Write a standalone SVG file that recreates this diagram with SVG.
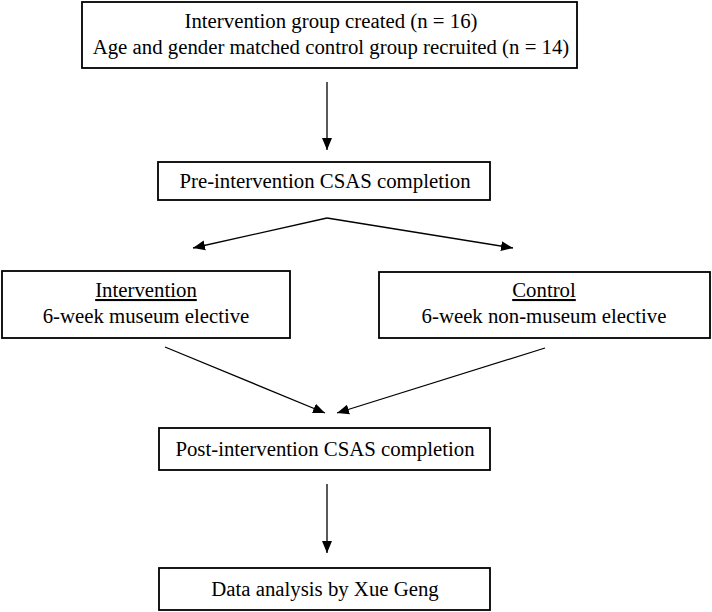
<svg xmlns="http://www.w3.org/2000/svg" width="712" height="612" viewBox="0 0 712 612">
<style>
.box{fill:#fff;stroke:#000;stroke-width:1.8}
.t{font-family:"Liberation Serif","Times New Roman",serif;font-size:20.8px;fill:#000;text-anchor:middle}
.c{stroke:#000;stroke-width:1.3;fill:none;marker-end:url(#ah)}
</style>
<defs>
<marker id="ah" markerUnits="userSpaceOnUse" markerWidth="12" markerHeight="12" viewBox="0 0 12 10" refX="12" refY="5" orient="auto">
<path d="M0,0 L12,5 L0,10 Z" fill="#000"/>
</marker>
</defs>
<rect width="712" height="612" fill="#fff"/>
<g id="connectors">
<line class="c" x1="327" y1="82" x2="327" y2="150"/>
<line class="c" x1="327" y1="218" x2="193" y2="248"/>
<line class="c" x1="327" y1="218" x2="513" y2="248"/>
<line class="c" x1="165" y1="347" x2="325" y2="413"/>
<line class="c" x1="545" y1="348" x2="337" y2="413"/>
<line class="c" x1="327" y1="484" x2="327" y2="553"/>
</g>
<g id="start">
<rect class="box" x="82" y="2" width="495" height="66"/>
<text class="t" x="331" y="28">Intervention group created (n = 16)</text>
<text class="t" x="331" y="54">Age and gender matched control group recruited (n = 14)</text>
</g>
<g id="pre">
<rect class="box" x="158" y="162" width="332" height="38"/>
<text class="t" x="325" y="188">Pre-intervention CSAS completion</text>
</g>
<g id="intervention">
<rect class="box" x="2" y="271" width="288" height="67"/>
<text class="t" x="146" y="297" text-decoration="underline">Intervention</text>
<text class="t" x="146" y="323">6-week museum elective</text>
</g>
<g id="control">
<rect class="box" x="379" y="272" width="331" height="66"/>
<text class="t" x="544" y="297" text-decoration="underline">Control</text>
<text class="t" x="544" y="323">6-week non-museum elective</text>
</g>
<g id="post">
<rect class="box" x="159" y="428" width="331" height="42"/>
<text class="t" x="325" y="456">Post-intervention CSAS completion</text>
</g>
<g id="data">
<rect class="box" x="159" y="568" width="331" height="42"/>
<text class="t" x="325" y="596">Data analysis by Xue Geng</text>
</g>
</svg>
